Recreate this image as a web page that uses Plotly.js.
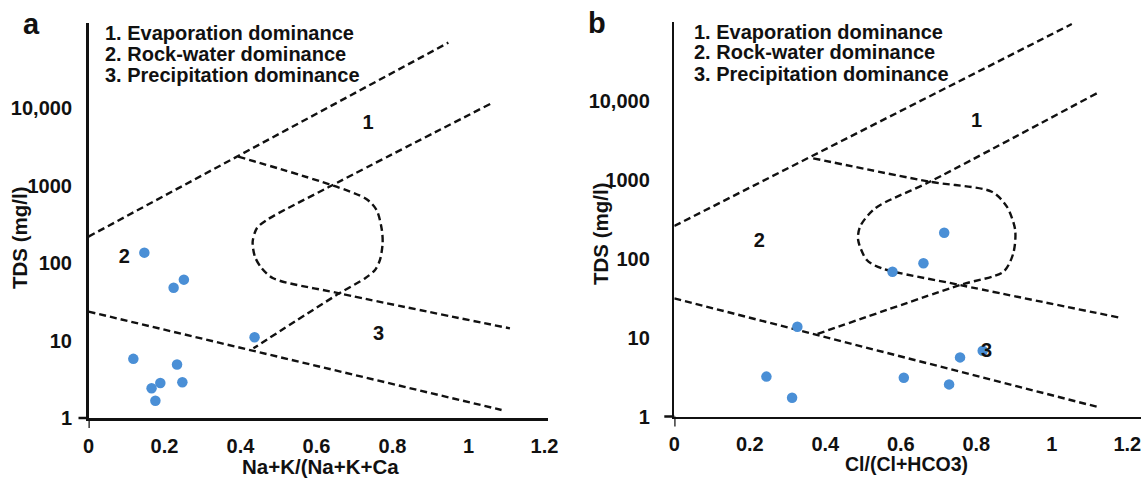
<!DOCTYPE html>
<html>
<head>
<meta charset="utf-8">
<script src="https://cdn.plot.ly/plotly-3.0.1.min.js"></script>
<style>html,body{margin:0;padding:0;background:#fff;}#chart{width:1148px;height:481px;}</style>
</head>
<body>
<div id="chart"></div>
<script>
// ---------------- data ----------------
// Panel a : Na+K/(Na+K+Ca) vs TDS
const sampleRatioA = [0.147, 0.251, 0.224, 0.437, 0.118, 0.233, 0.189, 0.247, 0.166, 0.176];
const sampleTdsA   = [136, 61, 48, 11, 5.8, 4.9, 2.83, 2.9, 2.42, 1.67];

// Panel b : Cl/(Cl+HCO3) vs TDS
const sampleRatioB = [0.715, 0.660, 0.578, 0.326, 0.757, 0.817, 0.244, 0.608, 0.728, 0.312];
const sampleTdsB   = [212, 87, 68, 13.7, 5.6, 6.8, 3.2, 3.1, 2.55, 1.73];

// Gibbs boundary lines, panel a
const aTopX   = [0, 0.947];
const aTopY   = [219, 69700];
const aOuterX = [0.394, 0.728, 0.758, 0.772, 0.774, 0.767, 0.754, 0.728, 0.660, 0.434];
const aOuterY = [2355, 684, 483, 267, 179.5, 109.4, 81.3, 63.5, 40.6, 7.93];
const aInnerX = [1.057, 0.631, 0.469, 0.443, 0.432, 0.438, 0.456, 0.486, 0.660, 1.109];
const aInnerY = [11272, 948, 359, 281, 188, 120.5, 85.3, 63.5, 40.6, 14.35];
const aLowX   = [0, 1.087];
const aLowY   = [23.6, 1.27];

// Gibbs boundary lines, panel b
const bTopX   = [0, 1.053];
const bTopY   = [258, 92900];
const bOuterX = [0.368, 0.677, 0.841, 0.881, 0.903, 0.898, 0.872, 0.757, 0.377];
const bOuterY = [1854, 938, 701, 453, 230, 116.4, 68.1, 46.2, 11.0];
const bInnerX = [1.119, 0.677, 0.532, 0.492, 0.487, 0.510, 0.549, 0.757, 1.176];
const bInnerY = [12330, 938, 431.5, 253, 171.4, 95.7, 75.2, 46.2, 18.0];
const bLowX   = [0, 1.119];
const bLowY   = [31.3, 1.33];

// zone number labels
const zoneText = ['1', '2', '3'];
const aZoneX = [0.736, 0.094, 0.763];
const aZoneY = [6166, 117, 11.8];
const bZoneX = [0.801, 0.225, 0.827];
const bZoneY = [5370, 163, 6.6];

// tick labels
const xTickVals = [0, 0.2, 0.4, 0.6, 0.8, 1, 1.2];
const xTickText = ['0', '0.2', '0.4', '0.6', '0.8', '1', '1.2'];
const yTickVals = [1, 10, 100, 1000, 10000];
const yTickText = ['1', '10', '100', '1000', '10,000'];

const legendLines = ['1. Evaporation dominance', '2. Rock-water dominance', '3. Precipitation dominance'];
const panelLetters = ['a', 'b'];
const xTitles = ['Na+K/(Na+K+Ca', 'Cl/(Cl+HCO3)'];
const yTitle = 'TDS (mg/l)';

// ---------------- styling ----------------
const FONT = 'Liberation Sans, Arial, Helvetica, sans-serif';
const dotColor = '#4a8fd6';
const dashLine = {color: '#111', width: 2.4, dash: '7px,4px'};

function lineTrace(x, y, xa, ya, spline) {
  return {x: x, y: y, xaxis: xa, yaxis: ya, mode: 'lines', type: 'scatter',
          line: Object.assign({}, dashLine, spline ? {shape: 'spline', smoothing: 0.8} : {}),
          hoverinfo: 'skip', showlegend: false};
}
function dots(x, y, xa, ya) {
  return {x: x, y: y, xaxis: xa, yaxis: ya, mode: 'markers', type: 'scatter',
          marker: {color: dotColor, size: 10.5}, hoverinfo: 'skip', showlegend: false};
}
function zoneLabels(x, y, xa, ya) {
  return {x: x, y: y, xaxis: xa, yaxis: ya, mode: 'text', type: 'scatter', text: zoneText,
          textposition: 'middle center', cliponaxis: false,
          textfont: {family: FONT, size: 20, color: '#111', weight: 'bold'},
          hoverinfo: 'skip', showlegend: false};
}

const traces = [
  lineTrace(aTopX, aTopY, 'x', 'y', false),
  lineTrace(aOuterX, aOuterY, 'x', 'y', true),
  lineTrace(aInnerX, aInnerY, 'x', 'y', true),
  lineTrace(aLowX, aLowY, 'x', 'y', false),
  dots(sampleRatioA, sampleTdsA, 'x', 'y'),
  zoneLabels(aZoneX, aZoneY, 'x', 'y'),
  lineTrace(bTopX, bTopY, 'x2', 'y2', false),
  lineTrace(bOuterX, bOuterY, 'x2', 'y2', true),
  lineTrace(bInnerX, bInnerY, 'x2', 'y2', true),
  lineTrace(bLowX, bLowY, 'x2', 'y2', false),
  dots(sampleRatioB, sampleTdsB, 'x2', 'y2'),
  zoneLabels(bZoneX, bZoneY, 'x2', 'y2')
];

const tickFont = {family: FONT, size: 20, color: '#111', weight: 'bold'};
function xAxis(domain, range, anchor) {
  return {domain: domain, range: range, anchor: anchor, type: 'linear',
          showline: true, linecolor: '#111', linewidth: 2.5, showgrid: false, zeroline: false,
          ticks: '', tickvals: xTickVals, ticktext: xTickText, tickfont: tickFont,
          ticklabelstandoff: 8, fixedrange: true};
}
function yAxis(domain, range, anchor, standoff) {
  return {domain: domain, range: range, anchor: anchor, type: 'log',
          showline: true, linecolor: '#111', linewidth: 2.5, showgrid: false, zeroline: false,
          ticks: '', tickvals: yTickVals, ticktext: yTickText, tickfont: tickFont,
          ticklabelstandoff: standoff, fixedrange: true};
}

const annFont = (s) => ({family: FONT, size: s, color: '#111', weight: 'bold'});
const annotations = [];
const legendLeft = [103 / 1148, 692 / 1148];
const legendTops = [[33, 54, 75], [31.5, 52.5, 73.5]];
for (let p = 0; p < 2; p++) {
  legendLines.forEach((t, i) => annotations.push({
    xref: 'paper', yref: 'paper', x: legendLeft[p], y: 1 - legendTops[p][i] / 481,
    xanchor: 'left', yanchor: 'middle', text: t, showarrow: false, font: annFont(20)
  }));
}
annotations.push({xref: 'paper', yref: 'paper', x: 31 / 1148, y: 1 - 24 / 481, xanchor: 'center', yanchor: 'middle',
                  text: panelLetters[0], showarrow: false, font: annFont(29)});
annotations.push({xref: 'paper', yref: 'paper', x: 597 / 1148, y: 1 - 23 / 481, xanchor: 'center', yanchor: 'middle',
                  text: panelLetters[1], showarrow: false, font: annFont(29)});
annotations.push({xref: 'paper', yref: 'paper', x: 320 / 1148, y: 1 - 466 / 481, xanchor: 'center', yanchor: 'middle',
                  text: xTitles[0], showarrow: false, font: annFont(20.5)});
annotations.push({xref: 'paper', yref: 'paper', x: 906 / 1148, y: 1 - 464 / 481, xanchor: 'center', yanchor: 'middle',
                  text: xTitles[1], showarrow: false, font: annFont(19.5)});
annotations.push({xref: 'paper', yref: 'paper', x: 19 / 1148, y: 1 - 238 / 481, xanchor: 'center', yanchor: 'middle',
                  text: yTitle, textangle: -90, showarrow: false, font: annFont(20.5)});
annotations.push({xref: 'paper', yref: 'paper', x: 600 / 1148, y: 1 - 234 / 481, xanchor: 'center', yanchor: 'middle',
                  text: yTitle, textangle: -90, showarrow: false, font: annFont(20.5)});

const tickShape = (xa, ya) => ([
  {type: 'line', xref: xa, x0: 0, x1: 0, yref: ya + ' domain', ysizemode: 'pixel', yanchor: 0, y0: 0, y1: -10,
   line: {color: '#111', width: 2.5}},
  {type: 'line', yref: ya + ' domain', y0: 0, y1: 0, xref: xa + ' domain', xsizemode: 'pixel', xanchor: 0, x0: 0, x1: -10,
   line: {color: '#111', width: 2.5}}
]);

const layout = {
  width: 1148, height: 481,
  margin: {l: 0, r: 0, t: 0, b: 0},
  paper_bgcolor: '#fff', plot_bgcolor: '#fff',
  showlegend: false,
  xaxis: xAxis([88.5 / 1148, 548.3 / 1148], [0, 1.21], 'y'),
  yaxis: yAxis([63 / 481, 458 / 481], [0, 5.097], 'x', 10),
  xaxis2: xAxis([674.3 / 1148, 1140.5 / 1148], [0, 1.235], 'y2'),
  yaxis2: yAxis([64.5 / 481, 459 / 481], [0, 4.994], 'x2', 18),
  annotations: annotations,
  shapes: tickShape('x', 'y').concat(tickShape('x2', 'y2'))
};

Plotly.newPlot('chart', traces, layout, {displayModeBar: false, staticPlot: true});
</script>
</body>
</html>
